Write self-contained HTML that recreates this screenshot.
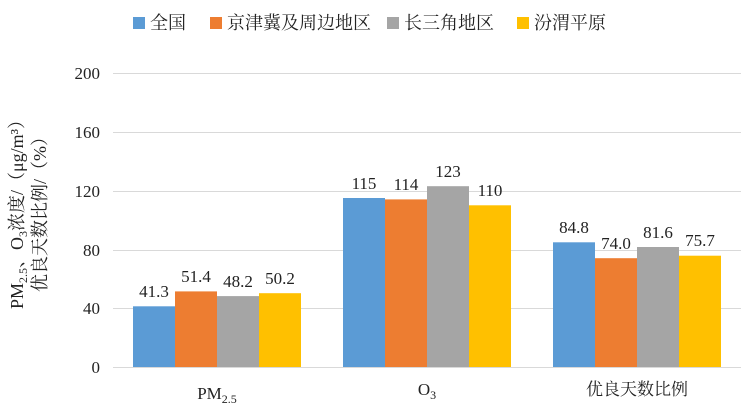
<!DOCTYPE html>
<html><head><meta charset="utf-8"><style>body{margin:0;background:#fff}</style></head><body>
<svg width="752" height="414" xmlns="http://www.w3.org/2000/svg" font-family="'Liberation Serif','Noto Serif CJK SC',serif">
<g stroke="#d9d9d9" stroke-width="1">
<line x1="113" x2="741" y1="73.5" y2="73.5"/><line x1="113" x2="741" y1="132.5" y2="132.5"/>
<line x1="113" x2="741" y1="191.5" y2="191.5"/><line x1="113" x2="741" y1="250.5" y2="250.5"/>
<line x1="113" x2="741" y1="308.5" y2="308.5"/><line x1="113" x2="741" y1="367.5" y2="367.5"/>
</g>
<g font-size="17" text-anchor="end" fill="#222">
<text x="100" y="79">200</text><text x="100" y="138">160</text><text x="100" y="197">120</text>
<text x="100" y="256">80</text><text x="100" y="314">40</text><text x="100" y="373">0</text>
</g>
<g font-size="18" text-anchor="middle" fill="#222">
<text transform="translate(23,210) rotate(-90)">PM<tspan font-size="12" dy="4">2.5</tspan><tspan dy="-4">、O</tspan><tspan font-size="12" dy="4">3</tspan><tspan dy="-4">浓度/（μg/m³）</tspan></text>
<text transform="translate(46,210) rotate(-90)">优良天数比例/（%）</text>
</g>
<g>
<rect x="133" y="306.3" width="42" height="60.7" fill="#5b9bd5"/>
<rect x="175" y="291.4" width="42" height="75.6" fill="#ed7d31"/>
<rect x="217" y="296.1" width="42" height="70.9" fill="#a5a5a5"/>
<rect x="259" y="293.2" width="42" height="73.8" fill="#ffc000"/>
<rect x="343" y="198.0" width="42" height="169.0" fill="#5b9bd5"/>
<rect x="385" y="199.4" width="42" height="167.6" fill="#ed7d31"/>
<rect x="427" y="186.2" width="42" height="180.8" fill="#a5a5a5"/>
<rect x="469" y="205.3" width="42" height="161.7" fill="#ffc000"/>
<rect x="553" y="242.3" width="42" height="124.7" fill="#5b9bd5"/>
<rect x="595" y="258.2" width="42" height="108.8" fill="#ed7d31"/>
<rect x="637" y="247.0" width="42" height="120.0" fill="#a5a5a5"/>
<rect x="679" y="255.7" width="42" height="111.3" fill="#ffc000"/>
</g>
<line x1="113" x2="741" y1="367.5" y2="367.5" stroke="#d9d9d9"/>
<g font-size="17" text-anchor="middle" fill="#222">
<text x="154" y="297">41.3</text><text x="196" y="282">51.4</text><text x="238" y="287">48.2</text><text x="280" y="284">50.2</text>
<text x="364" y="189">115</text><text x="406" y="190">114</text><text x="448" y="177">123</text><text x="490" y="196">110</text>
<text x="574" y="233">84.8</text><text x="616" y="249">74.0</text><text x="658" y="238">81.6</text><text x="700" y="246">75.7</text>
<text x="217" y="399">PM<tspan font-size="12" dy="4">2.5</tspan></text>
<text x="427" y="395">O<tspan font-size="12" dy="4">3</tspan></text>
<text x="637" y="395">优良天数比例</text>
</g>
<g font-size="18" fill="#222">
<rect x="133" y="17" width="12" height="12" fill="#5b9bd5"/><text x="150" y="29">全国</text>
<rect x="210" y="17" width="12" height="12" fill="#ed7d31"/><text x="227" y="29">京津冀及周边地区</text>
<rect x="387" y="17" width="12" height="12" fill="#a5a5a5"/><text x="404" y="29">长三角地区</text>
<rect x="517" y="17" width="12" height="12" fill="#ffc000"/><text x="534" y="29">汾渭平原</text>
</g>
</svg>
</body></html>
